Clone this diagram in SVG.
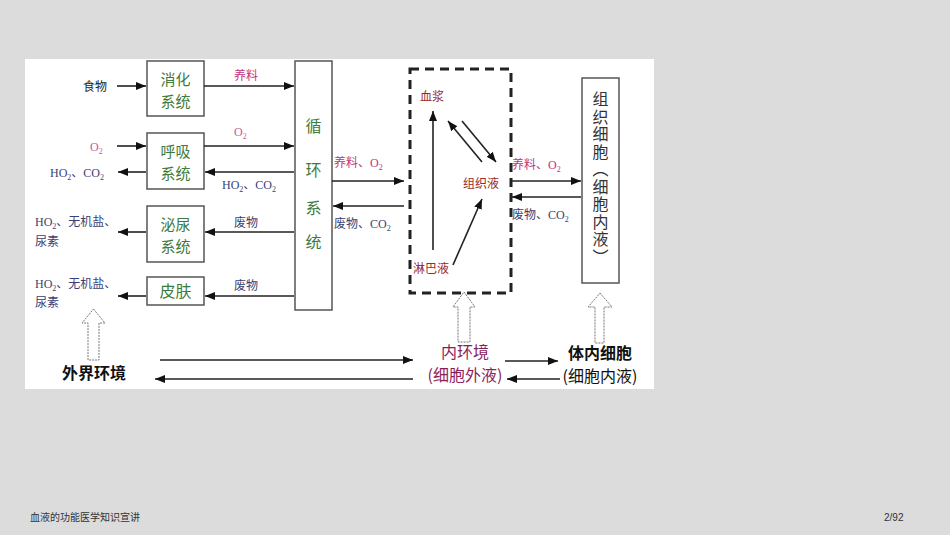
<svg xmlns="http://www.w3.org/2000/svg" width="950" height="535" viewBox="0 0 950 535">
<defs>
<marker id="ah" viewBox="0 0 10 8" refX="10" refY="4" markerWidth="10" markerHeight="8" markerUnits="userSpaceOnUse" orient="auto">
<path d="M0,0 L10,4 L0,8 z" fill="#111"/>
</marker>
<style>
.ln{stroke:#222;stroke-width:1.6;fill:none;marker-end:url(#ah)}
.box{fill:#fff;stroke:#555;stroke-width:1.5}
.bt{font-family:"Noto Sans CJK SC","Noto Sans",sans-serif;font-size:16px;fill:#3d7a3d;text-anchor:middle}
.b2{font-size:15px}
.cn{font-family:"Noto Sans CJK SC",sans-serif;font-size:12px}
.sr{font-family:"Liberation Serif","Noto Sans CJK SC",serif;font-size:12px}
.mag{fill:#c2327e}
.pink{fill:#c85a98}
.blue{fill:#3a3f74}
.red{fill:#9a2a2a}
.hollow{fill:#fff;stroke:#777;stroke-width:1;stroke-dasharray:2 1}
.big{font-family:"Noto Sans CJK SC",sans-serif;font-size:16px;text-anchor:middle}
.bold{font-weight:bold}
</style>
</defs>
<rect x="0" y="0" width="950" height="535" fill="#dcdcdc"/>
<rect x="25" y="59" width="629" height="330" fill="#ffffff"/>

<g id="xiaohua"><rect class="box" x="147" y="61" width="57" height="55"/><text class="bt b2" x="175.5" y="85">消化<tspan x="175.5" dy="22">系统</tspan></text></g>
<g id="huxi"><rect class="box" x="147" y="133" width="57" height="56"/><text class="bt b2" x="175.5" y="157">呼吸<tspan x="175.5" dy="22">系统</tspan></text></g>
<g id="miniao"><rect class="box" x="147" y="206" width="57" height="56"/><text class="bt b2" x="175.5" y="230">泌尿<tspan x="175.5" dy="22">系统</tspan></text></g>
<g id="pifu"><rect class="box" x="147" y="277" width="57" height="28"/><text class="bt" x="175.5" y="297">皮肤</text></g>
<g id="xunhuan"><rect class="box" x="295" y="61" width="37" height="249"/>
<text class="bt" x="313.5" y="132">循</text><text class="bt" x="313.5" y="176">环</text><text class="bt" x="313.5" y="214">系</text><text class="bt" x="313.5" y="248">统</text></g>
<g id="neihuanjing-box"><rect x="410" y="69" width="101" height="224" fill="none" stroke="#222" stroke-width="3" stroke-dasharray="9 6"/>
<text class="cn red" x="420" y="101" font-size="13">血浆</text>
<text class="cn red" x="463" y="188" font-size="13">组织液</text>
<text class="cn red" x="413" y="273" font-size="13">淋巴液</text></g>
<g id="zuzhixibao"><rect class="box" x="582" y="78" width="37" height="205"/>
<text x="600.5" y="91" writing-mode="vertical-rl" font-family="Noto Sans CJK SC,sans-serif" font-size="16" letter-spacing="1.5" fill="#333">组织细胞（细胞内液）</text></g>

<g id="waijie"><text class="big bold" x="94" y="379" fill="#111">外界环境</text></g>
<g id="neihuanjing"><text class="big" x="465" y="358" fill="#8c1d5c">内环境<tspan x="465" dy="23">(细胞外液)</tspan></text></g>
<g id="tineixibao"><text class="big" x="600" y="359" fill="#111"><tspan class="bold">体内细胞</tspan><tspan x="600" dy="23">(细胞内液)</tspan></text></g>

<g id="labels">
<text class="cn" x="83" y="91" fill="#222">食物</text>
<text class="sr pink" x="90" y="151">O<tspan font-size="8" dy="3">2</tspan></text>
<text class="sr blue" x="50" y="177">HO<tspan font-size="8" dy="3">2</tspan><tspan dy="-3" font-family="Noto Sans CJK SC">、</tspan>CO<tspan font-size="8" dy="3">2</tspan></text>
<text class="sr blue" x="35" y="226">HO<tspan font-size="8" dy="3">2</tspan><tspan dy="-3" font-family="Noto Sans CJK SC">、无机盐、</tspan></text>
<text class="cn blue" x="35" y="246">尿素</text>
<text class="sr blue" x="35" y="288">HO<tspan font-size="8" dy="3">2</tspan><tspan dy="-3" font-family="Noto Sans CJK SC">、无机盐、</tspan></text>
<text class="cn blue" x="35" y="307">尿素</text>
<text class="cn mag" x="234" y="80">养料</text>
<text class="sr pink" x="234" y="136">O<tspan font-size="8" dy="3">2</tspan></text>
<text class="sr blue" x="222" y="189">HO<tspan font-size="8" dy="3">2</tspan><tspan dy="-3" font-family="Noto Sans CJK SC">、</tspan>CO<tspan font-size="8" dy="3">2</tspan></text>
<text class="cn blue" x="234" y="227">废物</text>
<text class="cn blue" x="234" y="290">废物</text>
<text class="cn mag" x="334" y="167">养料、<tspan font-family="Liberation Serif">O</tspan><tspan font-family="Liberation Serif" font-size="8" dy="3">2</tspan></text>
<text class="cn blue" x="334" y="228">废物、<tspan font-family="Liberation Serif">CO</tspan><tspan font-family="Liberation Serif" font-size="8" dy="3">2</tspan></text>
<text class="cn mag" x="512" y="169">养料、<tspan font-family="Liberation Serif">O</tspan><tspan font-family="Liberation Serif" font-size="8" dy="3">2</tspan></text>
<text class="cn blue" x="512" y="219">废物、<tspan font-family="Liberation Serif">CO</tspan><tspan font-family="Liberation Serif" font-size="8" dy="3">2</tspan></text>
</g>

<g id="connectors">
<line class="ln" x1="117" y1="86" x2="146" y2="86"/>
<line class="ln" x1="204" y1="86" x2="294" y2="86"/>
<line class="ln" x1="117" y1="146" x2="146" y2="146"/>
<line class="ln" x1="146" y1="172" x2="118" y2="172"/>
<line class="ln" x1="204" y1="146" x2="294" y2="146"/>
<line class="ln" x1="294" y1="172" x2="205" y2="172"/>
<line class="ln" x1="294" y1="232" x2="205" y2="232"/>
<line class="ln" x1="146" y1="232" x2="118" y2="232"/>
<line class="ln" x1="294" y1="296" x2="205" y2="296"/>
<line class="ln" x1="146" y1="296" x2="118" y2="296"/>
<line class="ln" x1="332" y1="181" x2="404" y2="181"/>
<line class="ln" x1="404" y1="206" x2="333" y2="206"/>
<line class="ln" x1="511" y1="181" x2="581" y2="181"/>
<line class="ln" x1="581" y1="197" x2="512" y2="197"/>
<line class="ln" x1="433" y1="250" x2="433" y2="111"/>
<line class="ln" x1="482" y1="162" x2="448" y2="121"/>
<line class="ln" x1="462" y1="121" x2="496" y2="162"/>
<line class="ln" x1="453" y1="265" x2="482" y2="199"/>
<line class="ln" x1="160" y1="360" x2="413" y2="360"/>
<line class="ln" x1="413" y1="379" x2="155" y2="379"/>
<line class="ln" x1="505" y1="361" x2="558" y2="361"/>
<line class="ln" x1="560" y1="379" x2="507" y2="379"/>
<path class="hollow" d="M93.5,309 L105,323 L99,323 L99,360 L88,360 L88,323 L82,323 Z"/>
<path class="hollow" d="M464,292 L475,307 L470,307 L470,342 L458,342 L458,307 L453,307 Z"/>
<path class="hollow" d="M600,293 L612,307 L604,307 L604,343 L595,343 L595,307 L588,307 Z"/>
</g>

<g id="footer">
<text x="30" y="521" font-family="Noto Sans CJK SC,sans-serif" font-size="10" fill="#333">血液的功能医学知识宣讲</text>
<text x="884" y="521" font-family="Liberation Sans,sans-serif" font-size="10" fill="#333">2/92</text>
</g>
</svg>
